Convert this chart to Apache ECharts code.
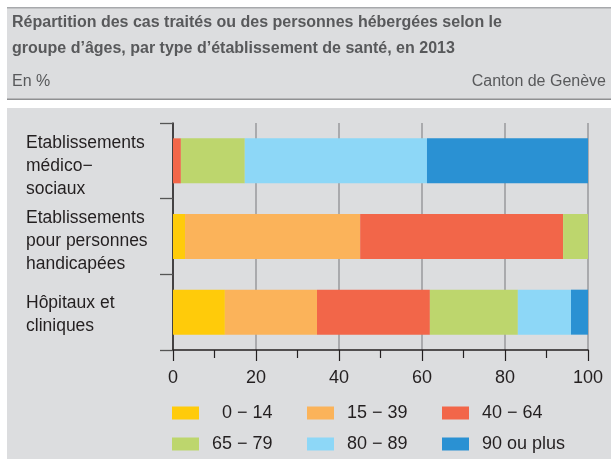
<!DOCTYPE html>
<html>
<head>
<meta charset="utf-8">
<script src="https://cdn.jsdelivr.net/npm/echarts@6/dist/echarts.min.js"></script>
<style>
html,body{margin:0;padding:0;background:#fff;}
#chart{width:611px;height:459px;}
</style>
</head>
<body>
<div id="chart"></div>
<script>
const categories = ['Etablissements\nmédico−\nsociaux', 'Etablissements\npour personnes\nhandicapées', 'Hôpitaux et\ncliniques'];
const ageGroups = ['0 − 14', '15 − 39', '40 − 64', '65 − 79', '80 − 89', '90 ou plus'];
const v0_14 = [0, 2.9, 12.5];
const v15_39 = [0, 42.2, 22.2];
const v40_64 = [1.9, 48.9, 27.2];
const v65_79 = [15.4, 6.0, 21.2];
const v80_89 = [43.9, 0, 12.8];
const v90plus = [38.8, 0, 4.1];
const xTicks = [0, 20, 40, 60, 80, 100];

const seriesValues = [v0_14, v15_39, v40_64, v65_79, v80_89, v90plus];
const colors = ['#FFCB0A', '#FBB35A', '#F26649', '#BDD66D', '#8DD7F7', '#2A91D3'];
const FONT = "'Liberation Sans', Arial, sans-serif";
const TXT = '#231f20';

const chart = echarts.init(document.getElementById('chart'), null, {renderer: 'canvas'});

const catPadTop = [10, 10, 6];

const legendLeft = [172, 307, 442];
const legendTop = [404, 435];

function legendFor(name, idx) {
  return {
    data: [name],
    left: legendLeft[idx % 3],
    top: legendTop[Math.floor(idx / 3)],
    padding: 0,
    orient: 'horizontal',
    itemWidth: 27,
    itemHeight: 13,
    icon: 'rect',
    selectedMode: false,
    formatter: function (n) { return n === '0 − 14' ? '{p|' + n + '}' : n; },
    textStyle: {
      fontFamily: FONT, fontSize: 18, color: TXT, padding: [0, 0, 0, 8],
      rich: { p: { fontFamily: FONT, fontSize: 18, color: TXT, padding: [0, 0, 0, 10] } }
    }
  };
}

const labelRich = {};
catPadTop.forEach(function (p, i) {
  labelRich['c' + i] = {fontFamily: FONT, fontSize: 17.5, color: TXT, lineHeight: 23, align: 'left', padding: [p, 0, 0, 0]};
});

const option = {
  backgroundColor: '#ffffff',
  animation: false,
  textStyle: {fontFamily: FONT},
  graphic: [
    {type: 'rect', z: -10, shape: {x: 7, y: 7, width: 604, height: 93}, style: {fill: '#dcdddf'}},
    {type: 'rect', z: -9, shape: {x: 7, y: 7, width: 604, height: 1.5}, style: {fill: '#a7a9ac'}},
    {type: 'rect', z: -9, shape: {x: 7, y: 98.5, width: 604, height: 1.5}, style: {fill: '#8f9092'}},
    {type: 'rect', z: -10, shape: {x: 7, y: 108, width: 604, height: 351}, style: {fill: '#dcdddf'}}
  ],
  title: [
    {
      text: 'Répartition des cas traités ou des personnes hébergées selon le\ngroupe d’âges, par type d’établissement de santé, en 2013',
      left: 7, top: 5,
      textStyle: {fontFamily: FONT, fontSize: 16, fontWeight: 'bold', color: '#58595b', lineHeight: 26}
    },
    {
      text: 'En %', left: 7, top: 69,
      textStyle: {fontFamily: FONT, fontSize: 16, fontWeight: 'normal', color: '#58595b'}
    },
    {
      text: 'Canton de Genève', right: 0, top: 69,
      textStyle: {fontFamily: FONT, fontSize: 16, fontWeight: 'normal', color: '#58595b'}
    }
  ],
  legend: ageGroups.map(legendFor),
  grid: {left: 173, right: 23, top: 123, bottom: 109, containLabel: false, outerBoundsMode: 'none'},
  xAxis: {
    type: 'value', min: 0, max: 100, interval: 20,
    axisLine: {show: true, lineStyle: {color: '#231f20', width: 1.5}},
    axisTick: {show: true, length: 11, lineStyle: {color: '#231f20', width: 1.2}},
    minorTick: {show: true, splitNumber: 2, length: 8, lineStyle: {color: '#231f20', width: 1.2}},
    splitLine: {show: true, lineStyle: {color: '#9d9ea0', width: 1.6}},
    axisLabel: {
      margin: 19, fontFamily: FONT, fontSize: 18, color: TXT,
      formatter: function (v) { return xTicks.indexOf(v) >= 0 ? String(v) : ''; }
    }
  },
  yAxis: {
    type: 'category', inverse: true,
    data: categories,
    axisLine: {show: true, lineStyle: {color: '#231f20', width: 1.5}},
    axisTick: {show: true, length: 13, interval: 0, lineStyle: {color: '#555', width: 1.3}},
    splitLine: {show: false},
    axisLabel: {
      interval: 0, hideOverlap: false,
      align: 'left', margin: 147, fontFamily: FONT, fontSize: 17.5, color: TXT, lineHeight: 23,
      formatter: function (value, index) {
        return value.split('\n').map(function (line) {
          return '{c' + index + '|' + line + '}';
        }).join('\n');
      },
      rich: labelRich
    }
  },
  series: ageGroups.map(function (name, i) {
    return {
      name: name, type: 'bar', stack: 'total', barWidth: 45,
      itemStyle: {color: colors[i]},
      emphasis: {disabled: true},
      data: seriesValues[i]
    };
  })
};
chart.setOption(option);
</script>
</body>
</html>
